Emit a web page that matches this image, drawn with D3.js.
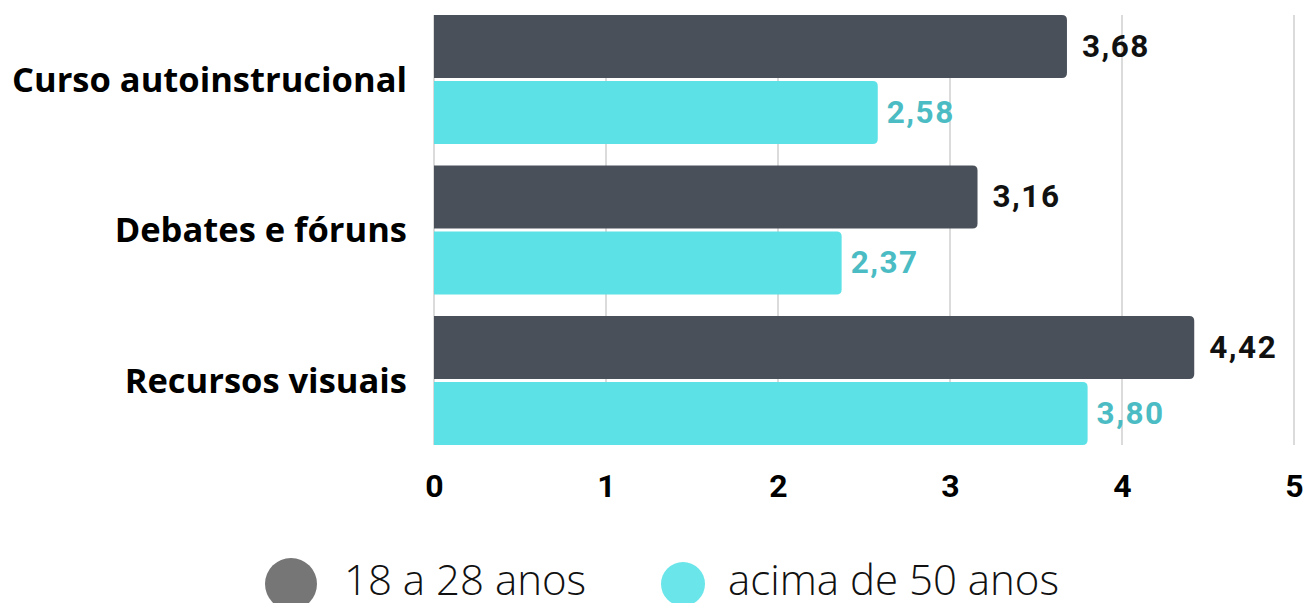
<!DOCTYPE html>
<html>
<head>
<meta charset="utf-8">
<script src="https://cdn.jsdelivr.net/npm/d3@7/dist/d3.min.js"></script>
<style>
  html, body { margin: 0; padding: 0; background: #fff; }
  svg { display: block; }
</style>
</head>
<body>
<svg id="chart" width="1307" height="603"></svg>
<script>
const categories = ["Curso autoinstrucional", "Debates e fóruns", "Recursos visuais"];
const seriesNames = ["18 a 28 anos", "acima de 50 anos"];
const young = [3.68, 3.16, 4.42];
const older = [2.58, 2.37, 3.80];
const xTicks = [0, 1, 2, 3, 4, 5];

const barColors = ["#4a5059", "#5ce1e6"];
const labelColors = ["#111111", "#4bbcc3"];
const legendColors = ["#767676", "#6ae5e9"];

const svg = d3.select("#chart");
const x = d3.scaleLinear().domain([0, 5]).range([434, 1294]);
const y0 = d3.scaleBand().domain(categories).range([15, 445]).paddingInner(0.143).paddingOuter(0);
const y1 = d3.scaleBand().domain([0, 1]).range([0, y0.bandwidth()]).paddingInner(0.046);

// gridlines
svg.append("g").selectAll("line").data(xTicks).join("line")
  .attr("x1", d => x(d)).attr("x2", d => x(d))
  .attr("y1", 15).attr("y2", 445)
  .attr("stroke", "#cfcfcf").attr("stroke-width", 1.5);

function barPath(x0, yTop, w, h, r) {
  r = Math.min(r, w);
  return `M${x0},${yTop}H${x0 + w - r}Q${x0 + w},${yTop} ${x0 + w},${yTop + r}V${yTop + h - r}Q${x0 + w},${yTop + h} ${x0 + w - r},${yTop + h}H${x0}Z`;
}

const data = categories.map((c, i) => ({ cat: c, vals: [young[i], older[i]] }));
const groups = svg.append("g").selectAll("g").data(data).join("g")
  .attr("transform", d => `translate(0,${y0(d.cat)})`);

groups.selectAll("path").data(d => d.vals.map((v, s) => ({ v, s }))).join("path")
  .attr("d", d => barPath(x(0), y1(d.s), x(d.v) - x(0), y1.bandwidth(), 5))
  .attr("fill", d => barColors[d.s]);

groups.selectAll("text.val").data(d => d.vals.map((v, s) => ({ v, s }))).join("text")
  .attr("class", "val")
  .attr("x", d => x(d.v) + (d.s === 0 ? 15 : 9))
  .attr("y", d => y1(d.s) + y1.bandwidth() / 2)
  .attr("dy", "0.33em")
  .attr("font-family", "Roboto, sans-serif")
  .attr("font-weight", 700)
  .attr("font-size", 31.5)
  .attr("letter-spacing", 1.5)
  .attr("fill", d => labelColors[d.s])
  .text(d => d.v.toFixed(2).replace(".", ","));

// category labels
svg.append("g").selectAll("text").data(categories).join("text")
  .attr("x", 407)
  .attr("y", d => y0(d) + y0.bandwidth() / 2)
  .attr("dy", "0.36em")
  .attr("text-anchor", "end")
  .attr("font-family", "'Open Sans', sans-serif")
  .attr("font-weight", 700)
  .attr("font-size", 34.5)
  .attr("fill", "#000")
  .text(d => d);

// x axis
const xAxis = d3.axisBottom(x).tickValues(xTicks).tickSize(0).tickPadding(0).tickFormat(d3.format("d"));
const ax = svg.append("g").attr("transform", "translate(0,474)").call(xAxis);
ax.select(".domain").remove();
ax.selectAll("text")
  .attr("dy", "0.71em")
  .attr("font-family", "Roboto, sans-serif")
  .attr("font-weight", 700)
  .attr("font-size", 32)
  .attr("fill", "#000");

// legend
const legendItems = [
  { name: seriesNames[0], cx: 291, r: 26, tx: 344, color: legendColors[0] },
  { name: seriesNames[1], cx: 683, r: 22, tx: 728, color: legendColors[1] }
];
const lg = svg.append("g").selectAll("g").data(legendItems).join("g");
lg.append("circle").attr("cx", d => d.cx).attr("cy", 584).attr("r", d => d.r).attr("fill", d => d.color);
lg.append("text")
  .attr("x", d => d.tx).attr("y", 595)
  .attr("font-family", "'Open Sans', sans-serif")
  .attr("font-weight", 300)
  .attr("font-size", 42)
  .attr("fill", "#111")
  .text(d => d.name);
</script>
</body>
</html>
